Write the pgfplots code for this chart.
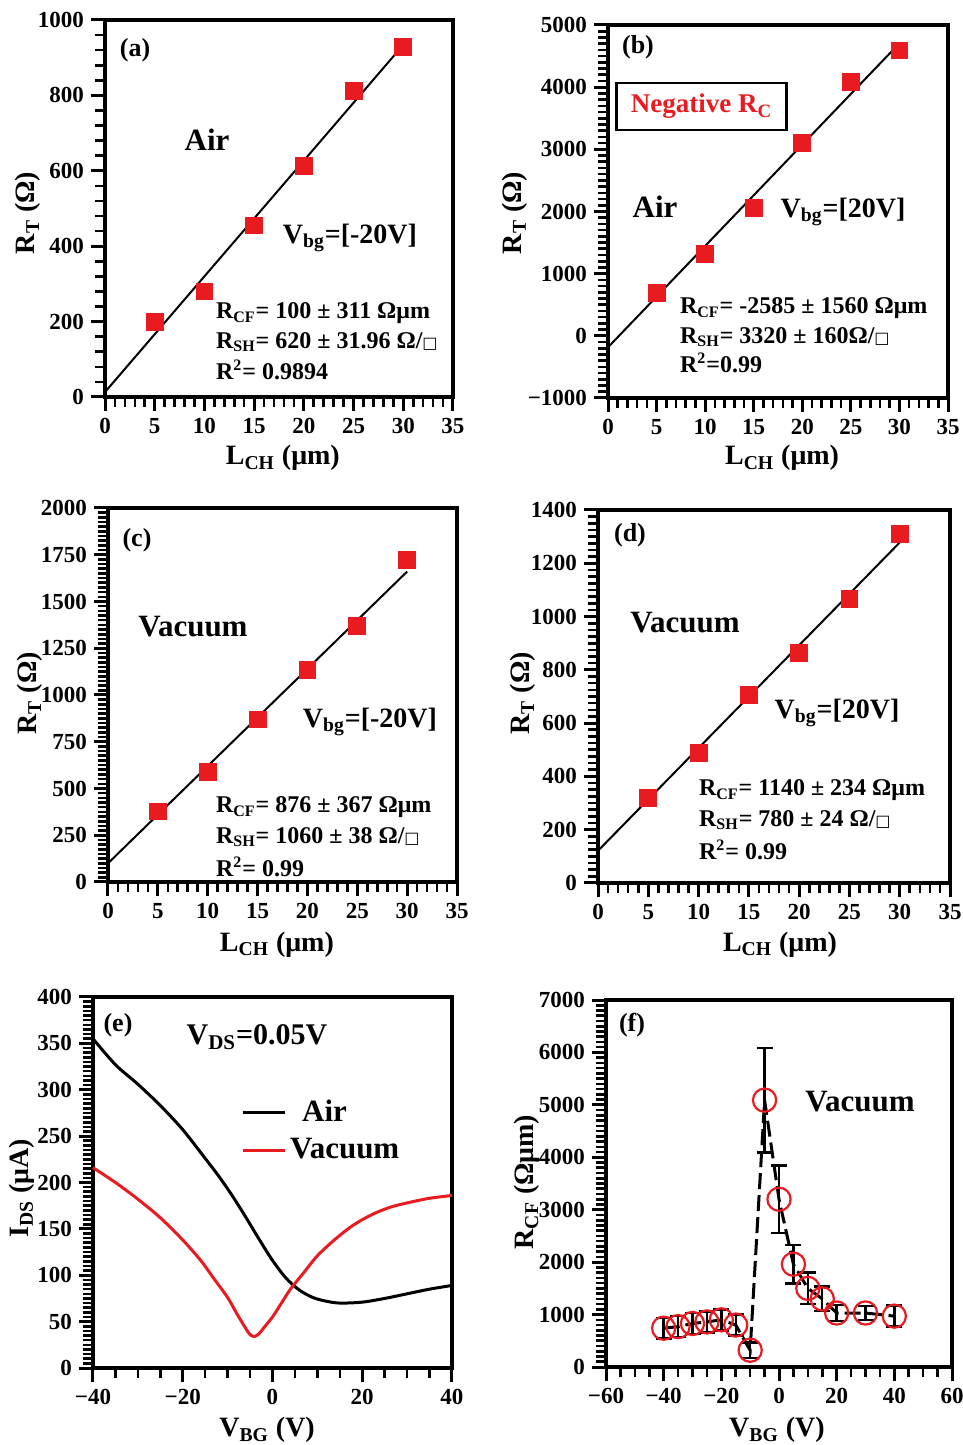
\documentclass[border=0pt]{standalone}
\usepackage{fontspec}
\setmainfont{Liberation Serif}
\newfontfamily\dejavu{DejaVu Sans}
\usepackage{pgfplots}
\pgfplotsset{compat=1.18}
\definecolor{rred}{RGB}{232,28,32}

\newcommand{\sqr}{{\dejavu\mdseries\fontsize{8}{8}\selectfont □}}
\newcommand{\fs}[1]{\bfseries\fontsize{#1}{#1}\selectfont}

\pgfplotsset{
  panel/.style={
    scale only axis,
    anchor=south west,
    axis line style={line width=2pt},
    tick pos=left, tick align=outside,
    major tick length=7pt, minor tick length=5pt,
    major tick style={line width=1.5pt, black},
    minor tick style={line width=1.3pt, black},
    tick label style={font=\fs{11.5}},
    /pgf/number format/assume math mode=true,
    /pgf/number format/1000 sep={},
    xlabel style={font=\fs{14}, anchor=center},
    ylabel style={font=\fs{14}, anchor=center},
    clip=false,
  },
  lch/.style={xmin=0, xmax=35, xtick={0,5,...,35}, minor x tick num=4,
    xlabel={L\textsubscript{CH} (μm)}, ylabel={R\textsubscript{T} (Ω)}},
  sqmark/.style={only marks, mark=square*, mark size=4.2pt, rred},
  fitline/.style={black, line width=1pt},
}

\begin{document}
\begin{tikzpicture}

% (a)
\begin{axis}[panel, lch, at={(52.5pt,524pt)}, width=174pt, height=188.5pt,
  ymin=0, ymax=1000, ytick={0,200,...,1000}, minor y tick num=4,
  xlabel style={at={(rel axis cs:0.511,-0.162)}},
  ylabel style={at={(rel axis cs:-0.221,0.488)}}]
\addplot[sqmark] coordinates {(5,200) (10,280) (15,455) (20,612) (25,812) (30,928)};
\addplot[fitline] coordinates {(0,13) (30,934)};
\end{axis}

% (b)
\begin{axis}[panel, lch, at={(304pt,523.5pt)}, width=170pt, height=186.5pt,
  ymin=-1000, ymax=5000, ytick={-1000,0,...,5000}, minor y tick num=9,
  yticklabels={−1000,0,1000,2000,3000,4000,5000},
  xlabel style={at={(rel axis cs:0.512,-0.161)}},
  ylabel style={at={(rel axis cs:-0.274,0.496)}}]
\addplot[sqmark] coordinates {(5,690) (10,1320) (15,2060) (20,3100) (25,4080) (30,4590)};
\addplot[fitline] coordinates {(0,-185) (30,4706)};
\end{axis}

% (c)
\begin{axis}[panel, lch, at={(54pt,281.5pt)}, width=174.5pt, height=187pt,
  ymin=0, ymax=2000, ytick={0,250,...,2000}, minor y tick num=9,
  xlabel style={at={(rel axis cs:0.484,-0.168)}},
  ylabel style={at={(rel axis cs:-0.223,0.505)}}]
\addplot[sqmark] coordinates {(5,378) (10,590) (15,870) (20,1136) (25,1368) (30,1722)};
\addplot[fitline] coordinates {(0,100) (30,1660)};
\end{axis}

% (d)
\begin{axis}[panel, lch, at={(299pt,281pt)}, width=176pt, height=186.5pt,
  ymin=0, ymax=1400, ytick={0,200,...,1400}, minor y tick num=7,
  xlabel style={at={(rel axis cs:0.517,-0.166)}},
  ylabel style={at={(rel axis cs:-0.213,0.509)}}]
\addplot[sqmark] coordinates {(5,318) (10,488) (15,706) (20,864) (25,1065) (30,1310)};
\addplot[fitline] coordinates {(0,121) (30,1278)};
\end{axis}

% (e)
\begin{axis}[panel, at={(46.5pt,38.5pt)}, width=179.5pt, height=185.5pt,
  xmin=-40, xmax=40, xtick={-40,-20,...,40}, xticklabels={−40,−20,0,20,40},
  minor x tick num=3,
  ymin=0, ymax=400, ytick={0,50,...,400}, minor y tick num=9,
  xlabel={V\textsubscript{BG} (V)}, ylabel={I\textsubscript{DS} (μA)},
  xlabel style={at={(rel axis cs:0.485,-0.167)}},
  ylabel style={at={(rel axis cs:-0.198,0.485)}},
  legend style={at={(rel axis cs:0.395,0.745)}, anchor=north west, draw=none,
    fill=none, font=\fs{15.5}, row sep=3pt},
  legend cell align=left,
  legend image code/.code={\draw[#1] (0pt,0pt) -- (21pt,0pt);}]
\addplot[black, line width=1.5pt, smooth] coordinates {
  (-40,355) (-35,327) (-30,306) (-25,283) (-20,257) (-15,226) (-12,207)
  (-9,186) (-6,163) (-3,139) (0,116) (3,97) (6,84) (9,76) (12,72) (15,70)
  (20,71) (25,75) (30,80) (35,85) (40,89)};
\addlegendentry{\hspace{6pt}Air}
\addplot[rred, line width=1.5pt, smooth] coordinates {
  (-40,216) (-35,200) (-30,182) (-25,162) (-20,138) (-16,116) (-13,96)
  (-10,76) (-8,59) (-6,43) (-5,36) (-4,34) (-3,37) (-2,43) (0,55) (2,70)
  (4,85) (7,103) (10,121) (14,139) (18,154) (22,165) (26,173) (30,178)
  (35,183) (40,186)};
\addlegendentry{Vacuum}
\end{axis}

% (f)
\begin{axis}[panel, at={(303pt,39pt)}, width=173pt, height=183.5pt,
  xmin=-60, xmax=60, xtick={-60,-40,...,60}, xticklabels={−60,−40,−20,0,20,40,60},
  minor x tick num=3,
  ymin=0, ymax=7000, ytick={0,1000,...,7000}, minor y tick num=9,
  xlabel={V\textsubscript{BG} (V)}, ylabel={R\textsubscript{CF} (Ωμm)},
  xlabel style={at={(rel axis cs:0.494,-0.172)}},
  ylabel style={at={(rel axis cs:-0.228,0.504)}}]
\addplot[black, line width=1.5pt, dash pattern=on 8pt off 3pt] coordinates {
  (-40,740) (-35,770) (-30,830) (-25,860) (-20,900) (-15,800) (-10,320)
  (-5,5090) (0,3200) (5,1960) (10,1500) (15,1300) (20,1030) (30,1030) (40,970)};
\addplot[only marks, mark=o, mark size=5.8pt, mark options={rred, line width=1.1pt},
  error bars/.cd, y dir=both, y explicit,
  error bar style={black, line width=1.2pt},
  error mark options={rotate=90, mark size=4pt, line width=1.2pt, black}]
  coordinates {
  (-40,740) +- (0,200) (-35,770) +- (0,200) (-30,830) +- (0,200)
  (-25,860) +- (0,200) (-20,900) +- (0,200) (-15,800) +- (0,200)
  (-10,320) +- (0,150) (-5,5090) +- (0,1000) (0,3200) +- (0,640)
  (5,1960) +- (0,370) (10,1500) +- (0,300) (15,1300) +- (0,235)
  (20,1030) +- (0,150) (30,1030) +- (0,130) (40,970) +- (0,200)};
\end{axis}

% panel texts
\node[font=\fs{13}] at (67.5pt,697.5pt) {(a)};
\node[font=\fs{15.5}] at (103.5pt,652.5pt) {Air};
\node[font=\fs{14}] at (175pt,603.5pt) {V\textsubscript{bg}=[-20V]};
\node[anchor=west, font=\fs{12}] at (104.5pt,566pt) {R\textsubscript{CF}= 100 ± 311 Ωμm};
\node[anchor=west, font=\fs{12}] at (104.5pt,551.5pt) {R\textsubscript{SH}= 620 ± 31.96 Ω/\sqr};
\node[anchor=west, font=\fs{12}] at (104.5pt,537.5pt) {R\textsuperscript{2}= 0.9894};

\node[font=\fs{13}] at (319pt,699pt) {(b)};
\node[draw, line width=1.2pt, minimum width=85pt, minimum height=23.5pt,
  text=rred, font=\fs{13.5}] at (350.8pt,669.3pt) {Negative R\textsubscript{C}};
\node[font=\fs{15.5}] at (327.5pt,619pt) {Air};
\node[font=\fs{14}] at (421.5pt,616.5pt) {V\textsubscript{bg}=[20V]};
\node[anchor=west, font=\fs{12}] at (336.5pt,568.5pt) {R\textsubscript{CF}= -2585 ± 1560 Ωμm};
\node[anchor=west, font=\fs{12}] at (336.5pt,554pt) {R\textsubscript{SH}= 3320 ± 160Ω/\sqr};
\node[anchor=west, font=\fs{12}] at (336.5pt,541pt) {R\textsuperscript{2}=0.99};

\node[font=\fs{13}] at (68.5pt,452.5pt) {(c)};
\node[font=\fs{15.5}] at (96.5pt,409pt) {Vacuum};
\node[font=\fs{14}] at (185pt,361.5pt) {V\textsubscript{bg}=[-20V]};
\node[anchor=west, font=\fs{12}] at (104.5pt,319pt) {R\textsubscript{CF}= 876 ± 367 Ωμm};
\node[anchor=west, font=\fs{12}] at (104.5pt,304pt) {R\textsubscript{SH}= 1060 ± 38 Ω/\sqr};
\node[anchor=west, font=\fs{12}] at (104.5pt,289pt) {R\textsuperscript{2}= 0.99};

\node[font=\fs{13}] at (315pt,455pt) {(d)};
\node[font=\fs{15.5}] at (342.5pt,411pt) {Vacuum};
\node[font=\fs{14}] at (418.5pt,366pt) {V\textsubscript{bg}=[20V]};
\node[anchor=west, font=\fs{12}] at (346pt,327.5pt) {R\textsubscript{CF}= 1140 ± 234 Ωμm};
\node[anchor=west, font=\fs{12}] at (346pt,312.5pt) {R\textsubscript{SH}= 780 ± 24 Ω/\sqr};
\node[anchor=west, font=\fs{12}] at (346pt,297.5pt) {R\textsuperscript{2}= 0.99};

\node[font=\fs{13}] at (59pt,210pt) {(e)};
\node[font=\fs{15}] at (128.5pt,204pt) {V\textsubscript{DS}=0.05V};

\node[font=\fs{13}] at (316pt,210pt) {(f)};
\node[font=\fs{15.5}] at (430pt,171.5pt) {Vacuum};

\pgfresetboundingbox
\useasboundingbox (0,0) rectangle (481.5pt,722.5pt);
\end{tikzpicture}
\end{document}
